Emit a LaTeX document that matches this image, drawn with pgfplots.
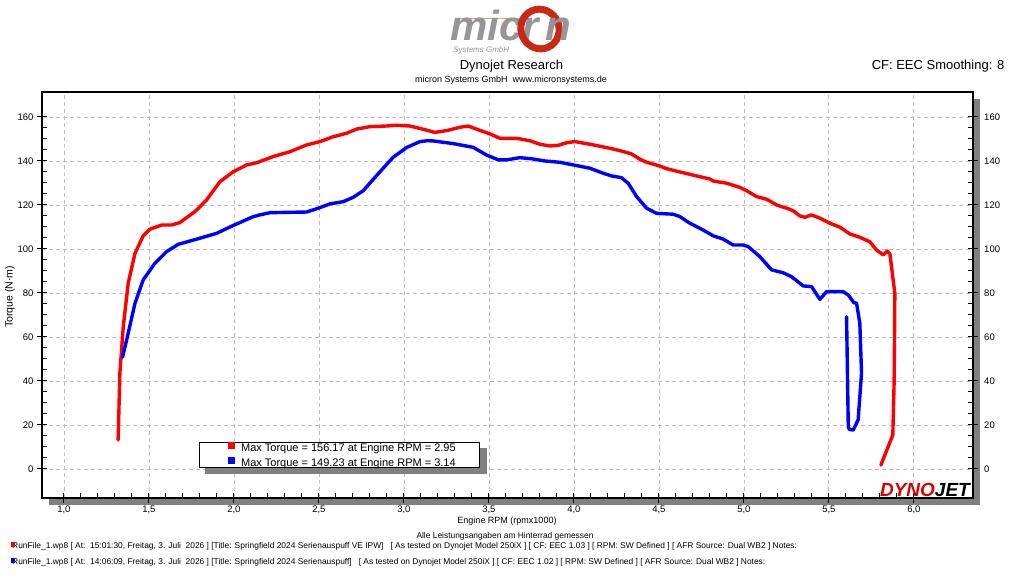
\documentclass[border=0pt]{standalone}
\usepackage{pgfplots}
\pgfplotsset{compat=1.18}
\usepackage{fontspec}
\setmainfont{Liberation Sans}
\definecolor{logored}{RGB}{200,40,20}
\definecolor{logogray}{RGB}{150,150,150}
\definecolor{gridgray}{RGB}{190,190,190}
\begin{document}
\begin{tikzpicture}
\path[use as bounding box] (0pt,0pt) rectangle (1024pt,576pt);
% header logo
\draw[logored!45, line width=0.8pt] (455pt,558pt) -- (522pt,558pt);
\node[anchor=base west, inner sep=0pt, text=logogray, font=\fontsize{42}{42}\selectfont\bfseries\itshape] at (450pt,535pt) {micr};
\draw[logored, line width=7pt, rotate around={25:(540pt,547pt)}] (540pt,547pt) ellipse [x radius=19pt, y radius=20pt];
\node[anchor=base west, inner sep=0pt, text=logogray, font=\fontsize{42}{42}\selectfont\bfseries\itshape] at (545pt,535pt) {n};
\node[anchor=west, inner sep=0pt, text=logogray, font=\fontsize{8}{8}\selectfont\itshape] at (453pt,526pt) {Systems GmbH};
\node[font=\fontsize{13}{13}\selectfont] at (511.5pt,510pt) {Dynojet Research};
\node[font=\fontsize{9}{9}\selectfont] at (511pt,496pt) {micron Systems GmbH\ \ www.micronsystems.de};
\node[anchor=east, font=\fontsize{13}{13}\selectfont] at (1008pt,510pt) {CF: EEC Smoothing: 8};
% shadow of the plot frame
\fill[black!50] (49pt,71pt) rectangle (979.7pt,477pt);
\begin{axis}[
  at={(42pt,78.3pt)}, anchor=south west,
  width=930.7pt, height=405.7pt, scale only axis,
  xmin=0.871, xmax=6.346, ymin=-13.05, ymax=171.35,
  axis background/.style={fill=white},
  xtick={1,1.5,...,6}, minor x tick num=4,
  ytick={0,20,...,160}, minor y tick num=3,
  xtick pos=left, ytick pos=both,
  xticklabels={}, yticklabels={},
  tick align=inside, major tick length=5pt, minor tick length=5pt,
  tick style={black, line width=1pt},
  axis line style={line width=1.6pt},
  grid=major,
  major grid style={dash pattern=on 4pt off 3pt, color=gridgray, line width=0.8pt},
  legend style={at={(0.169,0.138)}, anchor=north west, draw=black, line width=0.8pt, fill=white,
    font=\fontsize{11}{11}\selectfont, inner xsep=19pt, inner ysep=0pt, row sep=5pt,
    nodes={inner ysep=0pt, inner xsep=3pt, text height=8pt, text depth=1pt}},
  legend cell align=left,
  legend image code/.code={\path (0pt,0pt) (16pt,0pt); \fill[line width=0pt] (8pt,-0.5pt) rectangle (14pt,5.5pt);},
]
\fill[black!50] (rel axis cs:0.1755,0.0592) rectangle (rel axis cs:0.4785,0.1220);
\addplot[color=red, line width=3.4pt, line join=round, line cap=round] coordinates {
(1.319,13.2) (1.329,43.5) (1.349,64.7) (1.378,84.4) (1.418,98.0) (1.466,105.9) (1.506,109.0)
(1.575,110.9) (1.634,110.9) (1.682,112.0) (1.771,117.0) (1.800,119.2) (1.839,122.3) (1.918,130.6)
(1.996,135.1) (2.075,138.2) (2.134,139.2) (2.231,142.0) (2.329,144.2) (2.428,147.3) (2.506,148.8)
(2.584,151.0) (2.663,152.6) (2.722,154.5) (2.800,155.6) (2.898,155.9) (2.95,156.2) (3.035,155.9)
(3.114,154.4) (3.182,153.0) (3.251,153.8) (3.329,155.3) (3.378,155.9) (3.447,153.9) (3.506,152.3)
(3.565,150.3) (3.663,150.3) (3.741,149.2) (3.800,147.6) (3.859,146.8) (3.908,147.1) (3.957,148.3)
(4.006,148.8) (4.094,147.6) (4.192,146.1) (4.271,144.7) (4.339,143.2) (4.388,140.8) (4.428,139.4)
(4.506,137.7) (4.545,136.5) (4.624,135.0) (4.722,133.2) (4.800,131.8) (4.819,130.9) (4.898,129.9)
(4.976,128.0) (5.016,126.5) (5.075,123.8) (5.134,122.6) (5.193,120.0) (5.252,118.5) (5.290,117.4)
(5.329,115.0) (5.359,114.4) (5.398,115.5) (5.447,114.0) (5.506,111.7) (5.565,109.9) (5.624,106.8)
(5.682,105.3) (5.741,103.3) (5.780,99.5) (5.820,97.3) (5.843,99.1) (5.859,97.7) (5.878,85.9)
(5.888,79.9) (5.884,40.5) (5.876,15.5) (5.806,1.8)
};
\addlegendentry{\makebox[216pt][l]{Max Torque = 156.17 at Engine RPM = 2.95}}
\addplot[color=blue, line width=3.4pt, line join=round, line cap=round] coordinates {
(1.345,50.8) (1.378,61.7) (1.418,75.3) (1.466,85.9) (1.535,93.5) (1.604,98.8) (1.672,102.1)
(1.800,104.9) (1.898,107.1) (1.996,110.7) (2.114,114.7) (2.153,115.5) (2.212,116.5) (2.428,116.8)
(2.496,118.5) (2.565,120.5) (2.643,121.5) (2.702,123.5) (2.761,126.5) (2.820,131.7) (2.878,136.7)
(2.937,141.7) (3.016,146.1) (3.094,148.8) (3.14,149.2) (3.173,149.1) (3.290,147.9) (3.408,146.2)
(3.486,142.7) (3.555,140.5) (3.604,140.5) (3.682,141.5) (3.751,141.0) (3.829,140.0) (3.918,139.4)
(3.996,138.2) (4.094,136.7) (4.173,134.4) (4.222,133.2) (4.280,132.4) (4.320,129.8) (4.369,123.8)
(4.428,118.5) (4.486,116.2) (4.584,115.8) (4.624,114.7) (4.682,111.7) (4.761,108.6) (4.819,106.0)
(4.878,104.5) (4.937,101.8) (4.996,101.8) (5.025,101.1) (5.094,96.5) (5.163,90.5) (5.231,89.2)
(5.280,87.4) (5.349,83.2) (5.398,82.9) (5.447,77.1) (5.486,80.6) (5.584,80.6) (5.614,79.1)
(5.647,75.6) (5.663,75.3) (5.682,66.2) (5.692,43.5) (5.672,22.3) (5.643,17.7) (5.620,18.0)
(5.614,19.2) (5.604,69.2)
};
\addlegendentry{\makebox[216pt][l]{Max Torque = 149.23 at Engine RPM = 3.14}}
\end{axis}
% outer ticks and left/bottom labels
\begin{axis}[
  at={(42pt,78.3pt)}, anchor=south west,
  width=930.7pt, height=405.7pt, scale only axis,
  xmin=0.871, xmax=6.346, ymin=-13.05, ymax=171.35,
  axis line style={draw=none},
  xtick={1,1.5,...,6}, ytick={0,20,...,160},
  xtick pos=left, ytick pos=both, yticklabel pos=left,
  tick align=outside, major tick length=5pt,
  tick style={black, line width=1pt},
  /pgf/number format/assume math mode=true,
  ticklabel style={font=\fontsize{9.5}{9.5}\selectfont},
  xticklabel style={/pgf/number format/.cd, fixed, fixed zerofill, precision=1, use comma},
]
\end{axis}
% right labels
\begin{axis}[
  at={(42pt,78.3pt)}, anchor=south west,
  width=930.7pt, height=405.7pt, scale only axis,
  xmin=0.871, xmax=6.346, ymin=-13.05, ymax=171.35,
  axis line style={draw=none},
  xtick=\empty, ytick={0,20,...,160},
  ytick pos=right, yticklabel pos=right,
  tick align=outside, major tick length=5pt,
  tick style={draw=none},
  /pgf/number format/assume math mode=true,
  ticklabel style={font=\fontsize{9.5}{9.5}\selectfont},
  yticklabel style={xshift=3pt},
]
\end{axis}
% DYNOJET logo
\node[anchor=base east, inner sep=0pt, font=\fontsize{19}{19}\selectfont\bfseries\itshape] at (970pt,80pt) {\textcolor{red!85!black}{DYNO}JET};
% axis titles and notes
\node[rotate=90, font=\fontsize{10.5}{10.5}\selectfont] at (10pt,279pt) {Torque (N·m)};
\node[font=\fontsize{9}{9}\selectfont] at (507pt,55pt) {Engine RPM (rpmx1000)};
\node[font=\fontsize{8.4}{8.4}\selectfont] at (505pt,39.5pt) {Alle Leistungsangaben am Hinterrad gemessen};
\node[anchor=west, inner sep=0pt, font=\fontsize{8.4}{8.4}\selectfont] at (12pt,30pt) {RunFile\_1.wp8 [ At:\ \ 15:01:30, Freitag, 3. Juli\ \ 2026 ] [Title: Springfield 2024 Serienauspuff VE IPW]\ \ \ [ As tested on Dynojet Model 250iX ] [ CF: EEC 1.03 ] [ RPM: SW Defined ] [ AFR Source: Dual WB2 ] Notes:};
\node[anchor=west, inner sep=0pt, font=\fontsize{8.4}{8.4}\selectfont] at (12pt,14pt) {RunFile\_1.wp8 [ At:\ \ 14:06:09, Freitag, 3. Juli\ \ 2026 ] [Title: Springfield 2024 Serienauspuff]\ \ \ [ As tested on Dynojet Model 250iX ] [ CF: EEC 1.02 ] [ RPM: SW Defined ] [ AFR Source: Dual WB2 ] Notes:};
\fill[red] (10.5pt,29pt) rectangle (14.5pt,34pt);
\fill[blue] (10.5pt,13pt) rectangle (14.5pt,18pt);
\end{tikzpicture}
\end{document}
